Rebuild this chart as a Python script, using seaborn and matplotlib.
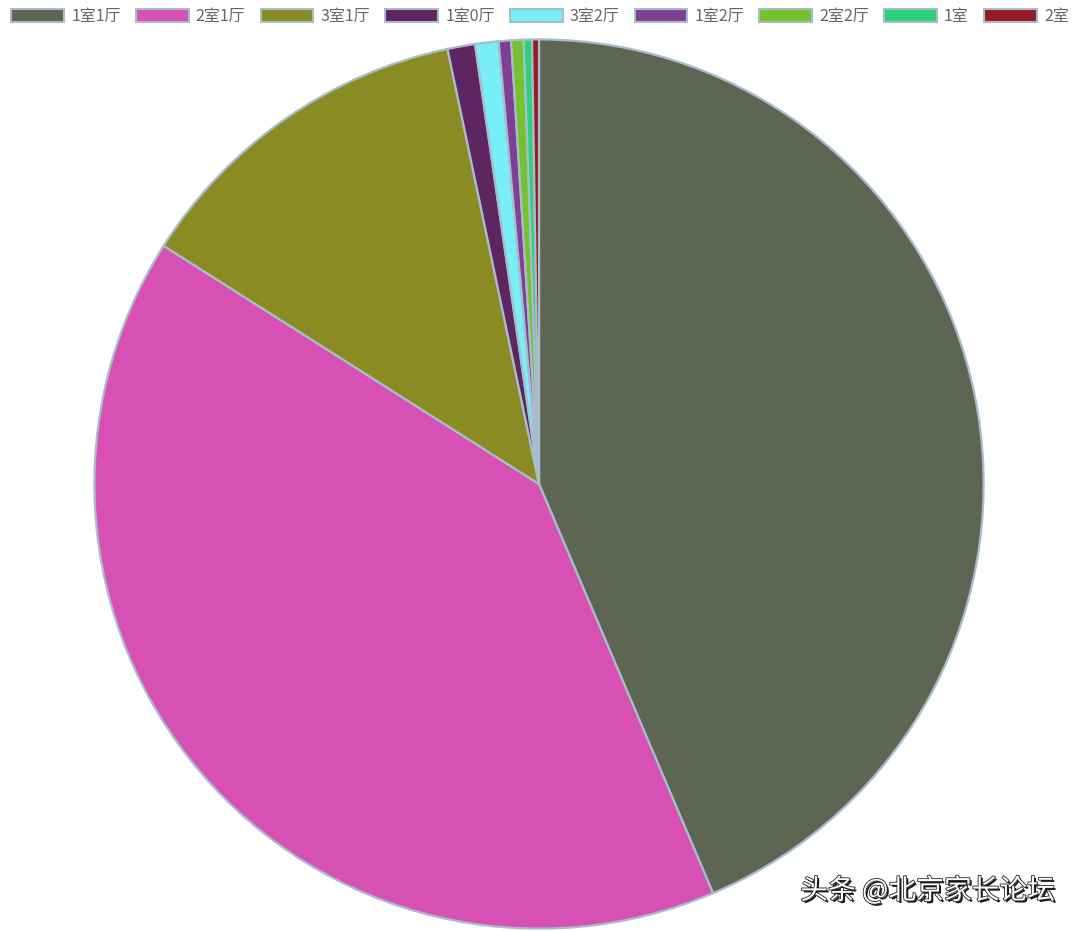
import matplotlib
matplotlib.use("Agg")
import matplotlib.pyplot as plt
import matplotlib.patheffects as pe
from matplotlib.patches import Patch
import seaborn as sns

# room layouts and their share (%)
layouts = ["1室1厅", "2室1厅", "3室1厅", "1室0厅", "3室2厅", "1室2厅", "2室2厅", "1室", "2室"]
shares = [43.6, 40.4, 12.7, 1.0, 0.85, 0.45, 0.45, 0.3, 0.25]
colors = ["#5f6553", "#d751b4", "#8a8c23", "#5e2660", "#78eef6",
          "#7f3f97", "#75c22d", "#2ed17b", "#951c23"]
edge = "#a8bccc"

sns.set_theme(style="white")
plt.rcParams["font.family"] = ["Noto Sans CJK SC", "DejaVu Sans"]
palette = sns.color_palette(colors)

fig = plt.figure(figsize=(10.8, 9.31), dpi=100)
ax = fig.add_axes([0.0861, 0.0011, 0.826, 0.958])

ax.pie(
    shares,
    colors=palette,
    startangle=90,
    counterclock=False,
    radius=1.0,
    wedgeprops={"edgecolor": edge, "linewidth": 1.6},
)
ax.set_xlim(-1.003, 1.003)
ax.set_ylim(-1.003, 1.003)
ax.axis("off")

handles = [Patch(facecolor=c, edgecolor=edge, linewidth=1.5) for c in palette]
fig.legend(
    handles,
    layouts,
    loc="upper center",
    bbox_to_anchor=(0.5, 1.0),
    ncol=len(layouts),
    frameon=False,
    fontsize=11.5,
    handlelength=3.3,
    handleheight=0.85,
    handletextpad=0.45,
    columnspacing=0.95,
    labelcolor="#666666",
    borderaxespad=0.1,
)

# watermark
fig.text(
    0.741, 0.043, "头条 @北京家长论坛",
    fontsize=20, color="white", ha="left", va="center",
    path_effects=[pe.withSimplePatchShadow(offset=(1.5, -1.5), shadow_rgbFace="black", alpha=0.9),
                  pe.withStroke(linewidth=1.2, foreground="#222222")],
)

fig.savefig("out.png", dpi=100, facecolor="white")
